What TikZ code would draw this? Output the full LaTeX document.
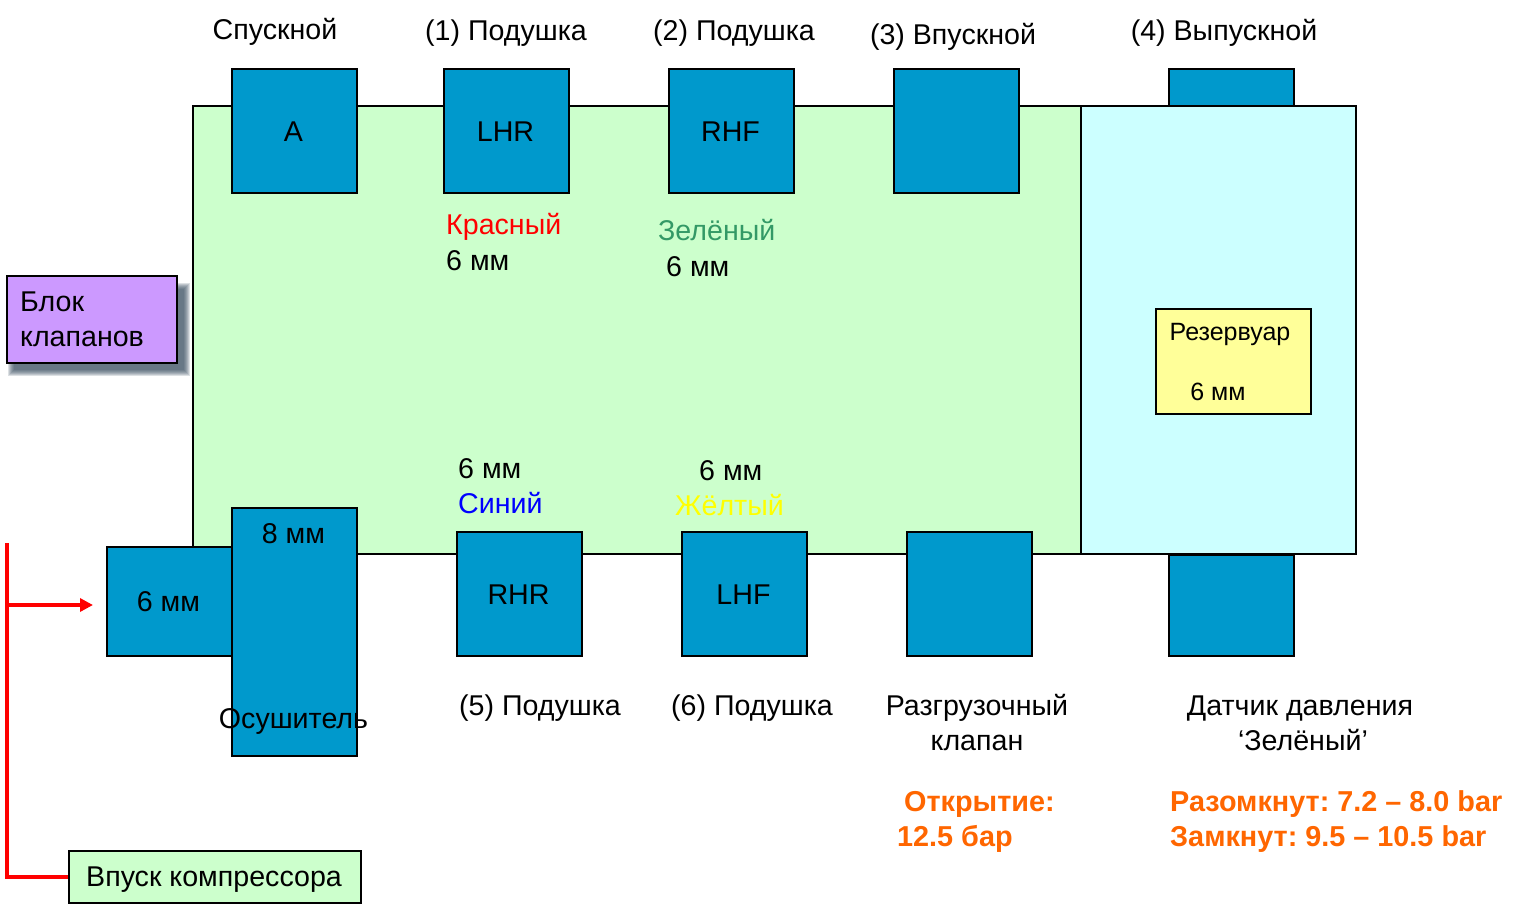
\documentclass[tikz,border=0pt]{standalone}
\usepackage{fontspec}
\setmainfont{Liberation Sans}
\usetikzlibrary{arrows.meta}
\frenchspacing
\definecolor{pgreen}{HTML}{CCFFCC}
\definecolor{pcyan}{HTML}{CCFFFF}
\definecolor{pblue}{HTML}{0099CC}
\definecolor{ppurple}{HTML}{CC99FF}
\definecolor{pyellow}{HTML}{FFFF99}
\definecolor{porange}{HTML}{FF6600}
\definecolor{tgreen}{HTML}{339966}
\definecolor{tyellow}{HTML}{FFFF00}
\definecolor{pshadow}{HTML}{2F4558}
\begin{document}
\begin{tikzpicture}[x=1pt,y=-1pt,
  every node/.style={font=\fontsize{28.6}{34}\selectfont},
  valve/.style={draw=black,line width=2.2pt,fill=pblue,rectangle,inner sep=0pt,minimum width=125pt,minimum height=124pt},
  area/.style={draw=black,line width=2.2pt,rectangle},
  txt/.style={inner sep=0pt,anchor=base},
  txtl/.style={inner sep=0pt,anchor=base west},
  otxt/.style={inner sep=0pt,anchor=base west,text=porange,font=\fontsize{28.8}{34}\selectfont\bfseries},
  redline/.style={draw=red,line width=3.5pt},
  shadowlayer/.style={fill=pshadow,opacity=0.17}
]
\useasboundingbox (0,0) rectangle (1523,911);
% main areas
\node[valve,minimum height=38pt,anchor=north west] (v4) at (1168,68) {};
\node[valve,minimum height=101pt,anchor=north west] (vs) at (1168,554) {};
\draw[area,fill=pgreen] (193,106) rectangle (1081,554);
\coordinate (gTL) at (193,106);
\draw[area,fill=pcyan] (1081,106) rectangle (1356,554);
% top valves
\node[valve,anchor=north west] (vA) at (231,68) {};
\node[valve,anchor=north west] (vLHR) at (443,68) {};
\node[valve,anchor=north west] (vRHF) at (668,68) {};
\node[valve,anchor=north west] (v3) at (893,68) {};
\node[txt] (tA) at (293.5,141) {A};
\node[txt] (tLHR) at (505.5,141) {LHR};
\node[txt] (tRHF) at (730.5,141) {RHF};
% bottom valves
\node[valve,anchor=north west] (vRHR) at (456,531) {};
\node[valve,anchor=north west] (vLHF) at (681,531) {};
\node[valve,anchor=north west] (vRel) at (906,531) {};
\node[txt] (tRHR) at (518.5,604) {RHR};
\node[txt] (tLHF) at (743.5,604) {LHF};
% dryer
\node[valve,minimum width=125pt,minimum height=109pt,anchor=north west] (v6) at (106,546) {};
\node[valve,minimum width=125pt,minimum height=248pt,anchor=north west] (vDry) at (231,507) {};
\node[txt] (t6) at (168.5,611) {6 мм};
\node[txt] (t8) at (293.5,543) {8 мм};
\node[txt] (tDry) at (293.5,728) {Осушитель};
% reservoir
\node[draw=black,line width=2.2pt,fill=pyellow,rectangle,inner sep=0pt,minimum width=155pt,minimum height=105pt,anchor=north west] (res) at (1155,308) {};
\node[txt,font=\fontsize{25}{30}\selectfont] (tres) at (1230,340) {Резервуар};
\node[txt,font=\fontsize{25}{30}\selectfont] (tres6) at (1218,400) {6 мм};
% block label with soft shadow
\foreach \i in {0,...,6}{
  \fill[shadowlayer] (8+\i,283+\i) rectangle (190-\i,376-\i);
}
\node[draw=black,line width=2.2pt,fill=ppurple,rectangle,inner sep=0pt,minimum width=170pt,minimum height=87pt,anchor=north west] (blk) at (6,275) {};
\node[txtl] (tblk1) at (20,311) {Блок};
\node[txtl] (tblk2) at (20,346) {клапанов};
% compressor inlet
\node[draw=black,line width=2.2pt,fill=pgreen,rectangle,inner sep=0pt,minimum width=292pt,minimum height=52pt,anchor=north west] (comp) at (68,850) {};
\node[txt] (tcomp) at (214,886) {Впуск компрессора};
% red lines
\coordinate (rTop) at (7,543);
\coordinate (rMid) at (7,605);
\coordinate (rArr) at (93,605);
\draw[redline] (rTop) |- (comp.west);
\draw[redline,-{Triangle[length=13pt,width=13pt]}] (rMid) -- (rArr);
% top labels
\node[txt] (l0) at (275,39) {Спускной};
\node[txt] (l1) at (506,40) {(1) Подушка};
\node[txt] (l2) at (734,40) {(2) Подушка};
\node[txt] (l3) at (953,44) {(3) Впускной};
\node[txt] (l4) at (1224,40) {(4) Выпускной};
% colour labels
\node[txtl,text=red] (c1) at (446,234) {Красный};
\node[txtl] (c1m) at (446,270) {6 мм};
\node[txtl,text=tgreen] (c2) at (658,240) {Зелёный};
\node[txtl] (c2m) at (666,276) {6 мм};
\node[txtl] (c5m) at (458,478) {6 мм};
\node[txtl,text=blue] (c5) at (458,513) {Синий};
\node[txtl] (c6m) at (699,480) {6 мм};
\node[txtl,text=tyellow] (c6) at (675,515) {Жёлтый};
% bottom labels
\node[txt] (b5) at (540,715) {(5) Подушка};
\node[txt] (b6) at (752,715) {(6) Подушка};
\node[txt] (b7a) at (977,715) {Разгрузочный};
\node[txt] (b7b) at (977,750) {клапан};
\node[txt] (b8a) at (1300,715) {Датчик давления};
\node[txt] (b8b) at (1303,750) {‘Зелёный’};
\node[otxt] (o1) at (904,811) {Открытие:};
\node[otxt] (o2) at (897,846) {12.5 бар};
\node[otxt] (o3) at (1170,811) {Разомкнут: 7.2 – 8.0 bar};
\node[otxt] (o4) at (1170,846) {Замкнут: 9.5 – 10.5 bar};
\end{tikzpicture}
\end{document}
